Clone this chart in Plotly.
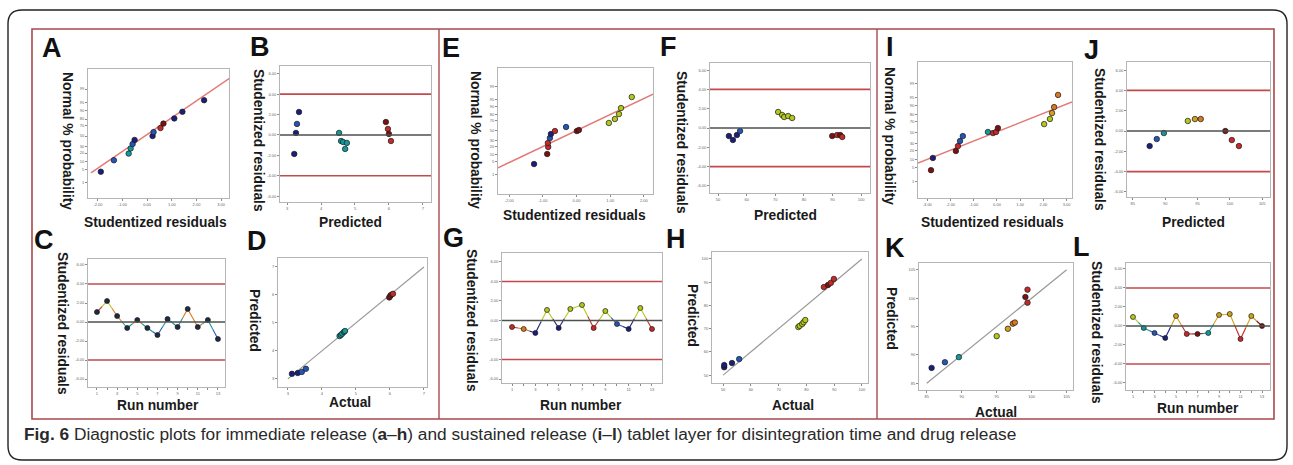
import math
import plotly.graph_objects as go

W, H = 1293, 465

# ---------------- data ----------------
# A: normal probability plot, immediate release - disintegration time
a_resid = [-1.88, -1.35, -0.75, -0.67, -0.59, -0.51, 0.22, 0.26, 0.54, 0.66, 1.10, 1.43, 2.31]
a_prob = [3.85, 11.5, 19.2, 26.9, 34.6, 42.3, 50.0, 57.7, 65.4, 73.1, 80.8, 88.5, 96.2]
a_line_resid = [-2.28, 3.36]
a_line_prob = [3.4, 99.8]
# B: residuals vs predicted
b_pred = [3.21, 3.26, 3.29, 3.35, 4.53, 4.59, 4.65, 4.76, 4.71, 5.91, 5.97, 6.00, 6.06]
b_resid = [-1.86, 0.20, 1.08, 2.25, 0.20, -0.59, -0.69, -0.78, -1.37, 1.27, 0.59, 0.10, -0.59]
# C: residuals vs run
c_run = [1, 2, 3, 4, 5, 6, 7, 8, 9, 10, 11, 12, 13]
c_resid = [1.05, 2.21, 0.63, -0.63, 0.21, -0.63, -1.37, 0.32, -0.53, 1.37, -0.53, 0.21, -1.79]
# D: predicted vs actual
d_actual = [3.12, 3.29, 3.41, 3.53, 4.52, 4.56, 4.60, 4.65, 4.68, 5.98, 6.01, 6.03, 6.09]
d_pred = [3.18, 3.21, 3.25, 3.36, 4.53, 4.57, 4.62, 4.68, 4.71, 5.91, 5.96, 6.00, 6.04]
d_line = [3, 7]
# E: normal probability plot, immediate release - drug release
e_resid = [-1.26, -0.87, -0.84, -0.85, -0.79, -0.76, -0.64, -0.31, 0.01, 0.07, 0.96, 1.14, 1.26, 1.32, 1.64]
e_prob = [3.8, 10.7, 19.2, 25.5, 34.5, 42.6, 48.9, 57.4, 48.9, 51.0, 65.5, 72.9, 80.8, 88.3, 96.2]
e_line_resid = [-2.33, 2.27]
e_line_prob = [2.4, 97.3]
# F: residuals vs predicted
f_pred = [53.8, 55.2, 56.6, 57.7, 71.0, 72.4, 73.1, 74.5, 75.9, 89.9, 91.6, 92.7, 93.4]
f_resid = [-0.83, -1.24, -0.73, -0.31, 1.66, 1.35, 1.14, 1.24, 1.04, -0.83, -0.73, -0.73, -0.93]
# G: residuals vs run
g_run = [1, 2, 3, 4, 5, 6, 7, 8, 9, 10, 11, 12, 13]
g_resid = [-0.67, -0.87, -1.28, 1.08, -0.77, 1.18, 1.59, -0.77, 0.97, -0.36, -0.87, 1.28, -0.87]
# H: predicted vs actual
h_actual = [50.4, 50.4, 53.2, 55.8, 77.1, 77.6, 78.5, 79.0, 79.6, 86.3, 87.8, 88.8, 89.9]
h_pred = [53.4, 54.3, 55.2, 56.9, 70.7, 71.2, 72.0, 72.8, 73.7, 87.9, 88.8, 89.7, 91.4]
h_line = [50, 100]
# I: normal probability plot, sustained release
i_resid = [-2.84, -2.76, -1.77, -1.68, -1.59, -1.47, -0.39, -0.17, -0.04, 0.04, 2.03, 2.28, 2.37, 2.46, 2.63]
i_prob = [3.8, 11.5, 19.2, 26.1, 34.5, 43.3, 51.0, 49.0, 51.0, 58.3, 65.5, 73.9, 82.1, 88.5, 96.2]
i_line_resid = [-3.4, 3.23]
i_line_prob = [7.5, 92.5]
# J: residuals vs predicted
j_pred = [87.6, 88.7, 89.8, 93.5, 94.6, 95.5, 99.3, 100.3, 101.4]
j_resid = [-1.48, -0.79, -0.20, 0.99, 1.18, 1.18, 0.0, -0.89, -1.48]
# K: predicted vs actual
k_actual = [85.7, 87.6, 89.6, 95.0, 96.6, 97.3, 97.6, 99.1, 99.4, 99.4]
k_pred = [87.7, 88.7, 89.6, 93.3, 94.6, 95.5, 95.7, 100.2, 101.5, 99.2]
k_line = [85, 105]
# L: residuals vs run
l_run = [1, 2, 3, 4, 5, 6, 7, 8, 9, 10, 11, 12, 13]
l_resid = [0.95, -0.21, -0.74, -1.26, 1.05, -0.84, -0.84, -0.74, 1.16, 1.26, -1.37, 1.05, 0.0]
# outlier limits of the residual plots
resid_limits = [4.0, -4.0]
prob_ticks = [1, 5, 10, 20, 30, 50, 70, 80, 90, 95, 99]
resid_ticks = [-6, -4, -2, 0, 2, 4, 6]

# ---------------- styles ----------------
NV, BL, TL, YG, GD, OR, RD, DR = ("#1b1f7a", "#2456b8", "#129a9a", "#b3c81a",
                                  "#d1a01c", "#d9781c", "#c42a2a", "#7a1212")
a_col = [NV, BL, TL, TL, BL, NV, NV, BL, RD, DR, NV, NV, NV]
b_col = [NV, NV, BL, NV, TL, TL, TL, TL, TL, DR, RD, DR, RD]
c_col = [RD, YG, OR, TL, OR, TL, BL, TL, TL, OR, OR, TL, BL]
d_col = [NV, NV, BL, BL, TL, TL, TL, TL, TL, DR, RD, DR, RD]
e_col = [NV, DR, RD, RD, BL, NV, RD, BL, DR, DR, YG, YG, YG, YG, YG]
f_col = [NV, NV, NV, BL, YG, YG, YG, YG, YG, DR, RD, DR, RD]
g_col = [RD, OR, NV, YG, NV, YG, YG, RD, YG, BL, NV, YG, RD]
h_col = [NV, NV, NV, BL, YG, YG, YG, YG, YG, RD, DR, RD, RD]
i_col = [DR, NV, DR, RD, BL, BL, TL, RD, RD, DR, YG, YG, GD, OR, OR]
j_col = [NV, BL, TL, YG, GD, OR, DR, RD, RD]
k_col = [NV, BL, TL, YG, GD, OR, OR, DR, RD, RD]
l_col = [YG, TL, BL, NV, GD, RD, DR, TL, GD, GD, RD, GD, DR]


def inv_norm(p):
    lo, hi = -8.0, 8.0
    for _ in range(80):
        mid = (lo + hi) / 2
        if 0.5 * (1 + math.erf(mid / math.sqrt(2))) < p:
            lo = mid
        else:
            hi = mid
    return (lo + hi) / 2


def probit(vals):
    return [inv_norm(v / 100.0) for v in vals]


def fmt2(v):
    return f"{v:.2f}"


run_text = [str(r) if r % 2 == 1 else "" for r in c_run]
panels = {
    "A": dict(frame=(88, 229, 69, 198), xr=[-2.40, 3.32], yr=[-3.07, 3.32],
              xt=[-2, -1, 0, 1, 2, 3], xl=[fmt2(v) for v in [-2, -1, 0, 1, 2, 3]],
              yt=probit(prob_ticks), yl=[str(v) for v in prob_ticks]),
    "B": dict(frame=(280, 431, 66, 202), xr=[2.79, 7.24], yr=[-6.57, 6.76],
              xt=[3, 4, 5, 6, 7], xl=["3", "4", "5", "6", "7"],
              yt=resid_ticks, yl=[fmt2(v) for v in resid_ticks]),
    "C": dict(frame=(88, 225, 259, 387), xr=[0.11, 13.7], yr=[-6.84, 6.63],
              xt=c_run, xl=run_text, yt=resid_ticks, yl=[fmt2(v) for v in resid_ticks]),
    "D": dict(frame=(278, 427, 258, 387), xr=[2.71, 7.09], yr=[2.71, 7.32],
              xt=[3, 4, 5, 6, 7], xl=["3", "4", "5", "6", "7"],
              yt=[3, 4, 5, 6, 7], yl=["3", "4", "5", "6", "7"]),
    "E": dict(frame=(498, 653, 68, 194), xr=[-2.33, 2.27], yr=[-3.36, 3.31],
              xt=[-2, -1, 0, 1, 2], xl=[fmt2(v) for v in [-2, -1, 0, 1, 2]],
              yt=probit(prob_ticks), yl=[str(v) for v in prob_ticks]),
    "F": dict(frame=(710, 870, 63, 193), xr=[47.2, 103.1], yr=[-6.74, 6.74],
              xt=[50, 60, 70, 80, 90, 100], xl=["50", "60", "70", "80", "90", "100"],
              yt=resid_ticks, yl=[fmt2(v) for v in resid_ticks]),
    "G": dict(frame=(502, 662, 253, 383), xr=[0.14, 13.86], yr=[-6.41, 6.92],
              xt=g_run, xl=run_text, yt=resid_ticks, yl=[fmt2(v) for v in resid_ticks]),
    "H": dict(frame=(712, 868, 252, 383), xr=[46.0, 102.2], yr=[46.6, 103.0],
              xt=[50, 60, 70, 80, 90, 100], xl=["50", "60", "70", "80", "90", "100"],
              yt=[50, 60, 70, 80, 90, 100], yl=["50", "60", "70", "80", "90", "100"]),
    "I": dict(frame=(918, 1072, 62, 198), xr=[-3.4, 3.23], yr=[-3.09, 3.33],
              xt=[-3, -2, -1, 0, 1, 2, 3], xl=[fmt2(v) for v in [-3, -2, -1, 0, 1, 2, 3]],
              yt=probit(prob_ticks), yl=[str(v) for v in prob_ticks]),
    "J": dict(frame=(1127, 1270, 62, 197), xr=[84.1, 106.2], yr=[-6.5, 6.8],
              xt=[85, 90, 95, 100, 105], xl=["85", "90", "95", "100", "105"],
              yt=resid_ticks, yl=[fmt2(v) for v in resid_ticks]),
    "K": dict(frame=(919, 1073, 263, 390), xr=[83.9, 105.9], yr=[83.8, 106.2],
              xt=[85, 90, 95, 100, 105], xl=["85", "90", "95", "100", "105"],
              yt=[85, 90, 95, 100, 105], yl=["85", "90", "95", "100", "105"]),
    "L": dict(frame=(1126, 1270, 263, 390), xr=[0.35, 13.74], yr=[-6.74, 6.63],
              xt=l_run, xl=run_text, yt=resid_ticks, yl=[fmt2(v) for v in resid_ticks]),
}
keys = list(panels.keys())


def ax_ids(key):
    n = keys.index(key) + 1
    s = "" if n == 1 else str(n)
    return "x" + s, "y" + s, n


fig = go.Figure()


def markers(key, xs, ys, cols, size=5.5):
    xa, ya, _ = ax_ids(key)
    fig.add_trace(go.Scatter(x=xs, y=ys, mode="markers", xaxis=xa, yaxis=ya,
                             marker=dict(size=size, color=cols,
                                         line=dict(width=0.7, color="#1a1a1a")),
                             showlegend=False, hoverinfo="skip"))


def line(key, xs, ys, color, width=1.3):
    xa, ya, _ = ax_ids(key)
    fig.add_trace(go.Scatter(x=xs, y=ys, mode="lines", xaxis=xa, yaxis=ya,
                             line=dict(color=color, width=width),
                             showlegend=False, hoverinfo="skip"))


def run_segments(key, xs, ys, cols):
    for i in range(len(xs) - 1):
        mx, my = (xs[i] + xs[i + 1]) / 2, (ys[i] + ys[i + 1]) / 2
        line(key, [xs[i], mx], [ys[i], my], cols[i], 1.1)
        line(key, [mx, xs[i + 1]], [my, ys[i + 1]], cols[i + 1], 1.1)


# normal plots
for key, xr, pr, lx, lp, col in [("A", a_resid, a_prob, a_line_resid, a_line_prob, a_col),
                                 ("E", e_resid, e_prob, e_line_resid, e_line_prob, e_col),
                                 ("I", i_resid, i_prob, i_line_resid, i_line_prob, i_col)]:
    line(key, lx, probit(lp), "#e27a78", 1.5)
    markers(key, xr, probit(pr), col)

# residual vs predicted
markers("B", b_pred, b_resid, b_col)
markers("F", f_pred, f_resid, f_col)
markers("J", j_pred, j_resid, j_col)

# residual vs run
run_segments("C", c_run, c_resid, c_col)
markers("C", c_run, c_resid, ["#1f2a44"] * len(c_run), 5)
run_segments("G", g_run, g_resid, g_col)
markers("G", g_run, g_resid, g_col, 5)
run_segments("L", l_run, l_resid, l_col)
markers("L", l_run, l_resid, l_col, 5)

# predicted vs actual
for key, ax, pr, dl, col in [("D", d_actual, d_pred, d_line, d_col),
                             ("H", h_actual, h_pred, h_line, h_col),
                             ("K", k_actual, k_pred, k_line, k_col)]:
    line(key, dl, dl, "#9a9a9a", 1.2)
    markers(key, ax, pr, col)

layout_axes = {}
shapes = []
for key, cfg in panels.items():
    xa, ya, n = ax_ids(key)
    x0, x1, y0, y1 = cfg["frame"]
    common = dict(showgrid=False, zeroline=False, showline=True, linecolor="#b5b5b5",
                  linewidth=1, mirror=True, ticks="outside", ticklen=2, tickwidth=1,
                  tickcolor="#8a8a8a", tickfont=dict(size=4, color="#666666",
                                                     family="Liberation Sans"),
                  fixedrange=True)
    layout_axes["xaxis" + ("" if n == 1 else str(n))] = dict(
        domain=[x0 / W, x1 / W], range=cfg["xr"], anchor=ya, tickvals=cfg["xt"],
        ticktext=cfg["xl"], **common)
    layout_axes["yaxis" + ("" if n == 1 else str(n))] = dict(
        domain=[1 - y1 / H, 1 - y0 / H], range=cfg["yr"], anchor=xa, tickvals=cfg["yt"],
        ticktext=cfg["yl"], **common)
    if key in ("B", "C", "F", "G", "J", "L"):
        for lim in resid_limits:
            shapes.append(dict(type="line", xref=xa + " domain", yref=ya, x0=0, x1=1,
                               y0=lim, y1=lim, line=dict(color="#c24a4c", width=1.6)))
        shapes.append(dict(type="line", xref=xa + " domain", yref=ya, x0=0, x1=1,
                           y0=0, y1=0, line=dict(color="#4d524d", width=1.6)))


def P(px, py):
    return px / W, 1 - py / H


# rounded outer frame
L_, R_, T_, B_, r = 8, 1287, 10, 460, 14
path = (f"M {P(L_ + r, T_)[0]},{P(L_ + r, T_)[1]} L {P(R_ - r, T_)[0]},{P(R_ - r, T_)[1]} "
        f"Q {P(R_, T_)[0]},{P(R_, T_)[1]} {P(R_, T_ + r)[0]},{P(R_, T_ + r)[1]} "
        f"L {P(R_, B_ - r)[0]},{P(R_, B_ - r)[1]} "
        f"Q {P(R_, B_)[0]},{P(R_, B_)[1]} {P(R_ - r, B_)[0]},{P(R_ - r, B_)[1]} "
        f"L {P(L_ + r, B_)[0]},{P(L_ + r, B_)[1]} "
        f"Q {P(L_, B_)[0]},{P(L_, B_)[1]} {P(L_, B_ - r)[0]},{P(L_, B_ - r)[1]} "
        f"L {P(L_, T_ + r)[0]},{P(L_, T_ + r)[1]} "
        f"Q {P(L_, T_)[0]},{P(L_, T_)[1]} {P(L_ + r, T_)[0]},{P(L_ + r, T_)[1]} Z")
shapes.append(dict(type="path", xref="paper", yref="paper", path=path,
                   line=dict(color="#222222", width=1.4)))
# red panel box and dividers
bx0, by0 = P(32, 29)
bx1, by1 = P(1274, 419)
shapes.append(dict(type="rect", xref="paper", yref="paper", x0=bx0, x1=bx1, y0=by1, y1=by0,
                   line=dict(color="#a9484b", width=1.6)))
for dx in (439, 877):
    shapes.append(dict(type="line", xref="paper", yref="paper", x0=dx / W, x1=dx / W,
                       y0=by1, y1=by0, line=dict(color="#a9484b", width=1.4)))

annotations = []


def text(px, py, s, size, angle=0, bold=False, color="#1a1a1a", xanchor="center",
         family="Liberation Sans"):
    x, y = P(px, py)
    annotations.append(dict(x=x, y=y, xref="paper", yref="paper", text=s, showarrow=False,
                            textangle=angle, xanchor=xanchor, yanchor="middle",
                            font=dict(size=size, color=color, family=family,
                                      weight="bold" if bold else "normal")))


# panel letters
letters = {"A": (52, 48), "B": (260, 47), "C": (44, 240), "D": (257, 241),
           "E": (451, 48), "F": (668, 47), "G": (453, 238), "H": (676, 239),
           "I": (890, 47), "J": (1091, 50), "K": (895, 248), "L": (1081, 247)}
for k, (lx, ly) in letters.items():
    text(lx, ly, k, 27, bold=True, color="#111111")

TS = 13.8
# x-axis titles
for s, (tx, ty) in [("Studentized residuals", (155, 222)), ("Predicted", (350, 222)),
                    ("Run number", (158, 405)), ("Actual", (350, 402)),
                    ("Studentized residuals", (574, 215)), ("Predicted", (785, 215)),
                    ("Run number", (581, 405)), ("Actual", (793, 405)),
                    ("Studentized residuals", (992, 222)), ("Predicted", (1193, 222)),
                    ("Actual", (996, 412)), ("Run number", (1198, 408))]:
    text(tx, ty, s, TS, bold=True)
# y-axis titles (rotated, reading downwards)
for s, (tx, ty) in [("Normal % probability", (68, 141)), ("Studentized residuals", (258, 140)),
                    ("Studentized residuals", (63, 323)), ("Predicted", (255, 320)),
                    ("Normal % probability", (475, 140)), ("Studentized residuals", (682, 142)),
                    ("Studentized residuals", (472, 320)), ("Predicted", (693, 315)),
                    ("Normal % probability", (890, 136)), ("Studentized residuals", (1100, 139)),
                    ("Predicted", (892, 318)), ("Studentized residuals", (1097, 332))]:
    text(tx, ty, s, TS, angle=90, bold=True)

# caption
text(22, 434, "<b>Fig. 6</b> Diagnostic plots for immediate release (<b>a</b>–<b>h</b>) and "
     "sustained release (<b>i</b>–<b>l</b>) tablet layer for disintegration time and drug release",
     17.3, color="#2a2a2a", xanchor="left")

fig.update_layout(width=W, height=H, autosize=False, margin=dict(l=0, r=0, t=0, b=0),
                  paper_bgcolor="white", plot_bgcolor="white", showlegend=False,
                  shapes=shapes, annotations=annotations, **layout_axes)
fig.write_html("out.html")
